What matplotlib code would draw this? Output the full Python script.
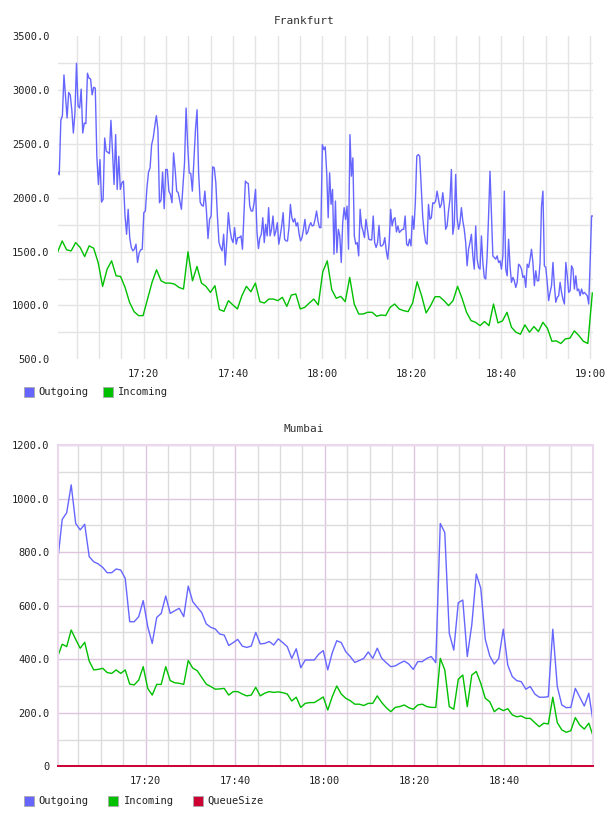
"""Frankfurt / Mumbai throughput dashboard (two stacked flot-style panels)."""

import matplotlib

matplotlib.use("Agg")
import matplotlib.pyplot as plt
import numpy as np
from matplotlib.patches import Rectangle
from matplotlib.ticker import FuncFormatter, MultipleLocator

W, H = 608, 816
FONT = "DejaVu Sans Mono"
C_OUT, C_IN, C_QUEUE = "#6666ff", "#00c000", "#cc0033"

# times are minutes after 17:00
FRA_T0, FRA_T1 = 0.73, 120.6
FRA_OUT_A = [2238, 2214, 2720, 2763, 3142, 2942, 2741, 2979, 2957, 2818,
             2602, 2788, 3250, 2855, 2834, 3010, 2602, 2695, 2689, 3158,
             3111, 3105, 2957, 3028, 3019, 2386, 2124, 2355, 1960, 1985,
             2556, 2433, 2423, 2411, 2720, 2433, 2124, 2587, 2078, 2386,
             2078, 2139, 2155, 1831, 1661, 1893, 1630, 1538, 1507, 1522,
             1569, 1399, 1485, 1516, 1522, 1862, 1877, 2093, 2238, 2278,
             2494, 2556, 2664, 2763, 2633, 1954, 1979, 2238, 1899, 2263,
             2263, 2062, 2031, 1954, 2417, 2263, 2062, 2047, 1970, 1893,
             2109, 2325, 2834, 2494, 2232, 2226, 2062, 2340, 2633, 2818,
             2232, 1960, 1930, 1923, 2062, 1877, 1621, 1800, 1831, 2288,
             2278, 2139, 1831, 1584, 1538, 1507, 1661, 1374, 1599, 1862,
             1707, 1621, 1584, 1723, 1569, 1630, 1630]
FRA_OUT_B = [1646, 1522, 1846, 2155, 2139, 2133, 1923, 1877, 1877,
             1954, 2078, 1677, 1528, 1630, 1661, 1815, 1584, 1754, 1646,
             1908, 1646, 1707, 1831, 1646, 1692, 1769, 1569, 1646, 1738,
             1862, 1615, 1599, 1599, 1723, 1939, 1815, 1775, 1806, 1738,
             1769, 1661, 1599, 1630, 1707, 1800, 1661, 1683, 1738, 1769,
             1738, 1744, 1800, 1877, 1785, 1723, 1723, 2494, 2448, 2473,
             2232, 1815, 2232, 1939, 2078, 1476, 1970, 1491, 1707, 1646,
             1399, 1769, 1908, 1800, 1923, 1522, 2587, 2201, 2371, 1646,
             1569, 1584, 1460, 1893, 1738, 1692, 1630, 1800, 1707, 1615,
             1609, 1609, 1831, 1584, 1538, 1584, 1744, 1553, 1553, 1569,
             1630, 1507, 1430, 1584, 1893, 1738, 1800, 1815, 1683, 1738,
             1677, 1692, 1707, 1707, 1831, 1569, 1553, 1615, 1553, 1831,
             1707, 1954, 2386, 2402, 2386]
FRA_OUT_C = [2078, 1815, 1677, 1584, 1569, 1939, 1800, 1815, 1954,
             1948, 1970, 2062, 1985, 1908, 1939, 2047, 1923, 1707, 1738,
             1877, 1985, 2263, 1661, 1754, 2217, 1815, 1707, 1769, 1908,
             1785, 1707, 1584, 1368, 1522, 1584, 1661, 1460, 1337, 1738,
             1430, 1353, 1337, 1646, 1399, 1260, 1245, 1460, 1831, 2247,
             1862, 1460, 1445, 1430, 1460, 1399, 1414, 1337, 1460, 2062,
             1337, 1275, 1615, 1368, 1214, 1260, 1229, 1167, 1214, 1383,
             1368, 1337, 1260, 1275, 1167, 1383, 1353, 1430, 1522, 1399,
             1183, 1322, 1229, 1229, 1399, 1923, 2062, 1368, 1353, 1214,
             1044, 1121, 1183, 1399, 1183, 1029, 1075, 1090, 1214, 1121,
             1059, 1013, 1399, 1275, 1121, 1137, 1368, 1337, 1152, 1275,
             1137, 1152, 1090, 1152, 1106, 1121, 1106, 1090, 1013, 1399,
             1831, 1831]
FRA_OUT_SPANS = [(0.73, 41.4), (41.78, 81.79), (82.16, 120.6)]

FRA_IN = [1498, 1599, 1516, 1507, 1584, 1538, 1454, 1553, 1532, 1399,
          1177, 1337, 1414, 1275, 1269, 1167, 1028, 942, 905, 905,
          1059, 1214, 1331, 1229, 1207, 1207, 1198, 1167, 1152, 1498,
          1229, 1362, 1207, 1177, 1121, 1183, 961, 945, 1044, 1004,
          967,
          1090, 1177, 1127, 1207, 1035, 1022, 1059, 1059, 1044, 1075,
          991, 1096, 1106, 967, 982, 1022, 1059, 1004, 1312, 1414,
          1146, 1066, 1084, 1035, 1260, 1013, 920, 920, 936, 936,
          899, 911, 905, 982, 1013, 967, 951, 942, 1022, 1220,
          1090, 930, 998, 1081, 1081, 1044, 998, 1044, 1177, 1066,
          936, 859, 843, 812, 850, 812, 1013, 837, 856, 936,
          797, 751, 732, 819, 751, 803, 757, 843, 788, 667,
          670, 646, 689, 695, 763, 720, 667, 646, 1115]
FRA_IN_SPAN = (0.73, 120.45)

MUM_T0, MUM_T1 = 0.37, 119.95
MUM_OUT = [768, 922, 947, 1051, 907, 883, 904, 783, 764, 756,
           743, 723, 723, 737, 733, 702, 540, 540, 559, 619,
           522, 459, 556, 571, 636, 571, 581, 590, 559, 673,
           615, 594, 574, 532, 519, 513, 494, 490, 451, 462,
           474,
           449, 444, 449, 500, 457, 459, 466, 453, 476, 462,
           447, 403, 439, 368, 397, 397, 397, 419, 432, 360,
           424, 469, 462, 428, 410, 388, 395, 403, 427, 403,
           441, 403, 387, 372, 375, 385, 393, 382, 362, 391,
           391, 403, 410, 387, 907, 873, 497, 434, 611, 621,
           410, 528, 718, 665, 474, 412, 382, 403, 512, 378,
           335, 320, 316, 288, 298, 270, 258, 258, 260, 512,
           298, 229, 219, 220, 291, 258, 225, 273, 161]
MUM_IN = [410, 456, 447, 509, 474, 441, 463, 393, 360, 362,
          366, 350, 347, 360, 347, 360, 307, 304, 322, 372,
          291, 266, 306, 306, 372, 320, 312, 310, 306, 395,
          367, 357, 332, 307, 298, 288, 289, 291, 266, 279,
          279,
          270, 263, 266, 295, 263, 273, 279, 276, 278, 275,
          270, 244, 258, 220, 235, 238, 238, 248, 259, 210,
          260, 300, 270, 254, 245, 232, 232, 227, 235, 235,
          263, 238, 219, 204, 220, 223, 229, 219, 213, 229,
          232, 223, 220, 220, 403, 360, 223, 213, 325, 341,
          223, 341, 354, 310, 254, 241, 204, 217, 208, 215,
          192, 185, 188, 179, 179, 163, 148, 161, 158, 258,
          163, 136, 127, 133, 182, 154, 139, 161, 111]
MUM_QUEUE = [0] * 120


def hhmm(m, _pos=None):
    m = int(round(m))
    return f"{17 + m // 60}:{m % 60:02d}"


def style_axes(ax, ymin, ymax, ystep, fmt):
    ax.set_ylim(ymin, ymax)
    ax.xaxis.set_major_locator(MultipleLocator(20))
    ax.xaxis.set_minor_locator(MultipleLocator(5))
    ax.yaxis.set_major_locator(MultipleLocator(ystep * 2))
    ax.yaxis.set_minor_locator(MultipleLocator(ystep))
    ax.xaxis.set_major_formatter(FuncFormatter(hhmm))
    ax.yaxis.set_major_formatter(FuncFormatter(fmt))
    ax.tick_params(which="both", length=0)
    ax.tick_params(axis="x", pad=7)
    ax.tick_params(axis="y", pad=6)
    for lab in ax.get_xticklabels() + ax.get_yticklabels():
        lab.set_fontfamily(FONT)
        lab.set_fontsize(7.5)
        lab.set_color("#222222")
    ax.set_axisbelow(True)


fig = plt.figure(figsize=(W / 100, H / 100), dpi=100)

# ---- Frankfurt -------------------------------------------------------------
ax1 = fig.add_axes([57.7 / W, 1 - 359.2 / H, (593 - 57.7) / W, (359.2 - 36.4) / H])
style_axes(ax1, 500, 3500, 250, lambda v, p: f"{v:.1f}")
for s in ax1.spines.values():
    s.set_visible(False)
# flot draws no line on the top/bottom edge of this panel
for v in np.arange(750, 3500, 250):
    ax1.axhline(v, color="#e4e4e4", lw=1, zorder=0)
ax1.grid(axis="x", which="both", color="#e4e4e4", lw=1)

fra_out = FRA_OUT_A + FRA_OUT_B + FRA_OUT_C
fra_out_t = np.concatenate([np.linspace(a, b, len(s)) for s, (a, b)
                            in zip([FRA_OUT_A, FRA_OUT_B, FRA_OUT_C], FRA_OUT_SPANS)])
ax1.plot(fra_out_t, fra_out, color=C_OUT, lw=1.0)
ax1.plot(np.linspace(*FRA_IN_SPAN, len(FRA_IN)), FRA_IN, color=C_IN, lw=1.0)
ax1.set_xlim(FRA_T0, FRA_T1)

# ---- Mumbai ----------------------------------------------------------------
ax2 = fig.add_axes([57.7 / W, 1 - 766.3 / H, (593.3 - 57.7) / W, (766.3 - 445) / H])
style_axes(ax2, 0, 1200, 100, lambda v, p: "0" if v == 0 else f"{v:.1f}")
ax2.grid(which="minor", color="#dcdcdc", lw=1)
ax2.grid(which="major", color="#dfc6df", lw=1)
for s in ax2.spines.values():
    s.set_color("#ecd8ec")
    s.set_linewidth(1.5)
mum_t = np.linspace(MUM_T0, MUM_T1, len(MUM_OUT))
ax2.plot(mum_t, MUM_OUT, color=C_OUT, lw=1.0)
ax2.plot(mum_t, MUM_IN, color=C_IN, lw=1.0)
ax2.plot(mum_t, MUM_QUEUE, color=C_QUEUE, lw=1.4, clip_on=False, zorder=5)
ax2.set_xlim(MUM_T0, MUM_T1)

# ---- titles and legends ----------------------------------------------------
for title, y in [("Frankfurt", 20.5), ("Mumbai", 428.5)]:
    fig.text(0.5, 1 - y / H, title, ha="center", va="center",
             family=FONT, fontsize=8, color="#333333")


def legend(items, y):
    for x_box, x_txt, label, color in items:
        fig.add_artist(Rectangle((x_box / W, 1 - (y + 5) / H), 10 / W, 10 / H,
                                 transform=fig.transFigure, facecolor=color,
                                 edgecolor="#aaaaaa", lw=0.6))
        fig.text(x_txt / W, 1 - y / H, label, ha="left", va="center",
                 family=FONT, fontsize=7.5, color="#222222")


legend([(24, 38.5, "Outgoing", C_OUT), (103, 118, "Incoming", C_IN)], 392)
legend([(24, 38.5, "Outgoing", C_OUT), (108, 123.5, "Incoming", C_IN),
        (192.5, 207, "QueueSize", C_QUEUE)], 800.5)

fig.savefig("out.png", dpi=100)
